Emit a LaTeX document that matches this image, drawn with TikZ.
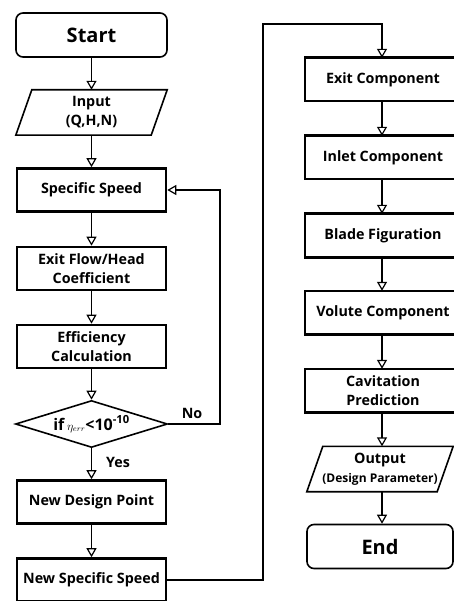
\documentclass[tikz,border=0pt]{standalone}
\usepackage{fontspec}
\setmainfont{Open Sans}
\usetikzlibrary{arrows.meta,shapes.geometric}

\begin{document}
\begin{tikzpicture}[x=1pt, y=-1pt,
    txt/.style = {font=\bfseries\fontsize{14.3}{19}\selectfont, align=center, inner sep=0pt},
    term/.style = {txt, draw, line width=1.6pt, rounded corners=7pt, minimum height=44pt},
    proc/.style = {txt, draw, line width=2.6pt, minimum height=43pt},
    cut/.style = {txt, minimum width=156pt, minimum height=43pt},
    io/.style = {txt, minimum height=45pt},
    flow/.style = {line width=1.2pt, -{Triangle[open, length=9pt, width=10pt]}}]

  \useasboundingbox (0,0) rectangle (454,601);
  \clip (0,0) rectangle (454,601);

  % left column
  \node[term, minimum width=151pt, font=\bfseries\fontsize{20}{22}\selectfont] (start) at (91.5, 35) {Start};
  \node[io, minimum width=151pt] (input) at (91.5, 112.5) {Input\\(Q,H,N)};
  \draw[line width=1.6pt] ([xshift=16pt]input.north west) -- (input.north east)
    -- ([xshift=-16pt]input.south east) -- (input.south west) -- cycle;
  \node[proc, minimum width=149pt] (speed) at (91.5, 190) {Specific Speed};
  \node[proc, minimum width=149pt] (coef) at (91.5, 268.5) {Exit Flow/Head\\Coefficient};
  \node[proc, minimum width=149pt] (eff) at (91.5, 346.5) {Efficiency\\Calculation};
  \node[txt, draw, line width=1.6pt, shape=diamond, aspect=3.2, minimum width=152pt, minimum height=47pt,
        font=\bfseries\fontsize{16}{18}\selectfont] (check) at (91.5, 424)
    {if\,{\mdseries\fontsize{12}{13}\selectfont$\eta_{err}$}<10\textsuperscript{-10}};
  \node[proc, minimum width=149pt] (design) at (91.5, 502) {New Design Point};
  \node[proc, minimum width=149pt] (newspeed) at (91.5, 580) {New Specific Speed};

  \node[txt] (yes) at (118, 462) {Yes};
  \node[txt] (no) at (192, 413) {No};

  \draw[flow] (start) -- (input);
  \draw[flow] (input) -- (speed);
  \draw[flow] (speed) -- (coef);
  \draw[flow] (coef) -- (eff);
  \draw[flow] (eff) -- (check);
  \draw[flow] (check) -- (design);
  \draw[flow] (design) -- (newspeed);

  % loop back when not converged
  \coordinate (back) at (220, 190);
  \draw[flow] (check.east) -| (back) -- (speed.east);

  % right column (boxes run past the right edge)
  \node[cut] (exitc) at (383, 79.5) {Exit Component};
  \node[cut] (inlet) at (383, 157.5) {Inlet Component};
  \node[cut] (blade) at (383, 235.5) {Blade Figuration};
  \node[cut] (volute) at (383, 312.5) {Volute Component};
  \node[cut] (cav) at (383, 390.5) {Cavitation\\Prediction};
  \foreach \n in {exitc, inlet, blade, volute, cav}
    \draw[line width=2.6pt] (\n.north west) rectangle ([xshift=40pt]\n.south east);
  \node[io, minimum width=146pt] (output) at (380, 469)
    {Output\\{\fontsize{12}{15}\selectfont(Design Parameter)}};
  \draw[line width=1.6pt] ([xshift=16pt]output.north west) -- (output.north east)
    -- ([xshift=-16pt]output.south east) -- (output.south west) -- cycle;
  \node[term, minimum width=146pt, font=\bfseries\fontsize{20}{22}\selectfont] (end) at (380, 546.5) {End};

  % link between the two columns
  \coordinate (up) at (263, 24);
  \coordinate (drop) at (382, 24);
  \draw[flow] (newspeed.east) -| (up) -- (drop) -- (drop |- exitc.north);

  \draw[flow] (drop |- exitc.south) -- (drop |- inlet.north);
  \draw[flow] (drop |- inlet.south) -- (drop |- blade.north);
  \draw[flow] (drop |- blade.south) -- (drop |- volute.north);
  \draw[flow] (drop |- volute.south) -- (drop |- cav.north);
  \draw[flow] (drop |- cav.south) -- (drop |- output.north);
  \draw[flow] (drop |- output.south) -- (drop |- end.north);
\end{tikzpicture}
\end{document}
